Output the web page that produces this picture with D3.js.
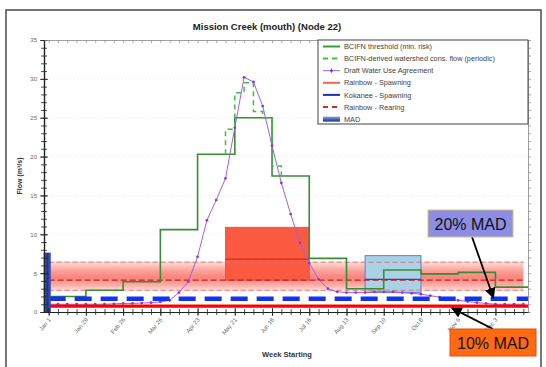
<!DOCTYPE html>
<html>
<head>
<meta charset="utf-8">
<script src="https://cdn.jsdelivr.net/npm/d3@7"></script>
<style>
  html, body { margin: 0; padding: 0; background: #ffffff; }
  svg { display: block; font-family: "Liberation Sans", Arial, Helvetica, sans-serif; }
</style>
</head>
<body>
<svg id="chart" width="546" height="367"></svg>
<script>
// ---------- DATA ----------
const weekLabels = ["Jan 1","Jan 29","Feb 26","Mar 26","Apr 23","May 21","Jun 18","Jul 16","Aug 13","Sep 10","Oct 8","Nov 5","Dec 3"];
const labelWeeks = [0,4,8,12,16,20,24,28,32,36,40,44,48];

// BCIFN threshold (min. risk) - 4-week steps
const bcifnWeeks  = [0,4,8,12,16,20,24,28,32,36,40,44,48,52];
const bcifnValues = [2.0,2.8,3.9,10.6,20.3,25.0,17.5,6.9,3.0,5.4,4.9,5.1,3.2,3.2];

// BCIFN-derived watershed cons. flow (periodic) - where it differs from threshold
const consWeeks  = [19,19,20,21,22,23,24,25];
const consValues = [20.3,23.5,28.2,29.5,25.8,25.0,18.8,17.5];

// Draft Water Use Agreement (weekly)
const wuaWeeks  = d3.range(0,52);
const wuaValues = [1.0,1.0,1.0,1.0,1.0,1.0,1.0,1.05,1.1,1.1,1.15,1.2,1.3,1.5,2.5,3.9,7.1,11.8,14.4,17.2,23.7,30.2,29.6,26.5,21.4,16.6,12.6,8.9,6.3,4.2,3.0,2.6,2.5,2.5,2.5,2.6,2.6,2.6,2.5,2.4,2.3,2.1,1.9,1.7,1.5,1.35,1.2,1.1,1.0,1.0,1.0,1.0];

// Rainbow - Spawning (week range, low / median / high)
const rainbowSpawnWeeks = [19,28];
const rainbowSpawnFlow  = [4.1,6.8,10.9];

// Kokanee - Spawning
const kokaneeSpawnWeeks = [34,40];
const kokaneeSpawnFlow  = [2.5,4.2,7.25];

// Rainbow - Rearing (low / median / high)
const rearingWeeks = [0,51];
const rearingFlow  = [2.8,4.1,6.4];

// MAD related
const madValue   = 7.6;
const mad20      = 1.7;
const mad10      = 0.75;

const yTicks = d3.range(0,36,5);

// ---------- LAYOUT ----------
const svg = d3.select("#chart");
const L = 44, R = 528, T = 40, B = 312;

const x = d3.scaleLinear().domain([-0.5, 51.5]).range([L, R]);
const y = d3.scaleLinear().domain([0, 35]).range([B, T]);

const defs = svg.append("defs");
defs.append("clipPath").attr("id","plotclip").append("rect")
  .attr("x",L).attr("y",T).attr("width",R-L).attr("height",B-T);

const bandGrad = defs.append("linearGradient").attr("id","bandGrad")
  .attr("x1",0).attr("y1",0).attr("x2",0).attr("y2",1);
bandGrad.append("stop").attr("offset","0%").attr("stop-color","#ffe2e0");
bandGrad.append("stop").attr("offset","30%").attr("stop-color","#fb9a92");
bandGrad.append("stop").attr("offset","55%").attr("stop-color","#f8766c");
bandGrad.append("stop").attr("offset","80%").attr("stop-color","#fba59e");
bandGrad.append("stop").attr("offset","100%").attr("stop-color","#ffe6e4");

const madGrad = defs.append("linearGradient").attr("id","madGrad")
  .attr("x1",0).attr("y1",0).attr("x2",1).attr("y2",0);
madGrad.append("stop").attr("offset","0%").attr("stop-color","#5a78d0");
madGrad.append("stop").attr("offset","50%").attr("stop-color","#1c2f8e");
madGrad.append("stop").attr("offset","100%").attr("stop-color","#4060c0");

const madGradL = defs.append("linearGradient").attr("id","madGradL")
  .attr("x1",0).attr("y1",0).attr("x2",0).attr("y2",1);
madGradL.append("stop").attr("offset","0%").attr("stop-color","#8aa2e0");
madGradL.append("stop").attr("offset","100%").attr("stop-color","#1c2f8e");

defs.append("marker").attr("id","arrow").attr("viewBox","0 0 10 10")
  .attr("refX",9).attr("refY",5).attr("markerWidth",6).attr("markerHeight",6)
  .attr("orient","auto-start-reverse")
  .append("path").attr("d","M0,0 L10,5 L0,10 z").attr("fill","#000");

// outer frame
svg.append("rect").attr("x",6).attr("y",10).attr("width",535).attr("height",370)
  .attr("fill","none").attr("stroke","#555").attr("stroke-width",1.6);

// title
svg.append("text").attr("x",267).attr("y",30).attr("text-anchor","middle")
  .attr("font-size",9.5).attr("font-weight","bold").attr("fill","#222")
  .text("Mission Creek (mouth) (Node 22)");

// faint grid
const grid = svg.append("g");
grid.selectAll("line.h").data(yTicks.filter(d=>d>0 && d<35)).join("line")
  .attr("x1",L).attr("x2",R).attr("y1",d=>y(d)).attr("y2",d=>y(d))
  .attr("stroke","#e4e4e4").attr("stroke-dasharray","1,2").attr("stroke-width",0.8);

const plot = svg.append("g").attr("clip-path","url(#plotclip)");

// Rainbow rearing band
plot.append("rect")
  .attr("x",x(rearingWeeks[0])).attr("width",x(rearingWeeks[1])-x(rearingWeeks[0]))
  .attr("y",y(rearingFlow[2]+0.15)).attr("height",y(rearingFlow[0]-0.15)-y(rearingFlow[2]+0.15))
  .attr("fill","url(#bandGrad)").attr("opacity",0.9);

// Rainbow spawning box
plot.append("rect")
  .attr("x",x(rainbowSpawnWeeks[0])).attr("width",x(rainbowSpawnWeeks[1])-x(rainbowSpawnWeeks[0]))
  .attr("y",y(rainbowSpawnFlow[2])).attr("height",y(rainbowSpawnFlow[0])-y(rainbowSpawnFlow[2]))
  .attr("fill","#fb5a40").attr("stroke","#e84a30").attr("stroke-width",0.8);
plot.append("line")
  .attr("x1",x(rainbowSpawnWeeks[0])).attr("x2",x(rainbowSpawnWeeks[1]))
  .attr("y1",y(rainbowSpawnFlow[1])).attr("y2",y(rainbowSpawnFlow[1]))
  .attr("stroke","#d42a1a").attr("stroke-width",1.2);

// Kokanee spawning box
plot.append("rect")
  .attr("x",x(kokaneeSpawnWeeks[0])).attr("width",x(kokaneeSpawnWeeks[1])-x(kokaneeSpawnWeeks[0]))
  .attr("y",y(kokaneeSpawnFlow[2])).attr("height",y(kokaneeSpawnFlow[0])-y(kokaneeSpawnFlow[2]))
  .attr("fill","#a9d2e4").attr("stroke","#5a78e0").attr("stroke-width",1);

// rearing dashed lines
plot.selectAll("line.rear").data([rearingFlow[0], rearingFlow[2]]).join("line")
  .attr("x1",x(rearingWeeks[0])).attr("x2",x(rearingWeeks[1]))
  .attr("y1",d=>y(d)).attr("y2",d=>y(d))
  .attr("stroke","#e66a6a").attr("stroke-width",0.9).attr("stroke-dasharray","5,3");
plot.append("line")
  .attr("x1",x(rearingWeeks[0])).attr("x2",x(rearingWeeks[1]))
  .attr("y1",y(rearingFlow[1])).attr("y2",y(rearingFlow[1]))
  .attr("stroke","#c81e1e").attr("stroke-width",1.4).attr("stroke-dasharray","6,3");

// kokanee median line
plot.append("line")
  .attr("x1",x(kokaneeSpawnWeeks[0])).attr("x2",x(kokaneeSpawnWeeks[1]))
  .attr("y1",y(kokaneeSpawnFlow[1])).attr("y2",y(kokaneeSpawnFlow[1]))
  .attr("stroke","#3340c8").attr("stroke-width",1.3);

// BCIFN threshold
const stepLine = d3.line().x(d=>x(d[0])).y(d=>y(d[1])).curve(d3.curveStepAfter);
plot.append("path").datum(bcifnWeeks.map((w,i)=>[w,bcifnValues[i]]))
  .attr("d",stepLine).attr("fill","none").attr("stroke","#3a8c34").attr("stroke-width",1.6);

// BCIFN-derived cons. flow (dashed)
plot.append("path").datum(consWeeks.map((w,i)=>[w,consValues[i]]))
  .attr("d",stepLine).attr("fill","none").attr("stroke","#3cbf3c").attr("stroke-width",1.5)
  .attr("stroke-dasharray","5,4");

// Draft WUA
const wuaLine = d3.line().x(d=>x(d[0])).y(d=>y(d[1]));
const wuaData = wuaWeeks.map((w,i)=>[w,wuaValues[i]]);
plot.append("path").datum(wuaData).attr("d",wuaLine)
  .attr("fill","none").attr("stroke","#a55ee0").attr("stroke-width",1);
plot.selectAll("circle.wua").data(wuaData).join("circle")
  .attr("cx",d=>x(d[0])).attr("cy",d=>y(d[1])).attr("r",1.4).attr("fill","#8a3ccc");

// 20% MAD line
plot.append("line").attr("x1",x(0)).attr("x2",R)
  .attr("y1",y(mad20)).attr("y2",y(mad20))
  .attr("stroke","#1432f0").attr("stroke-width",4.6).attr("stroke-dasharray","17,9");

// 10% MAD line
plot.append("line").attr("x1",x(0)).attr("x2",R)
  .attr("y1",y(mad10)).attr("y2",y(mad10))
  .attr("stroke","#ff0000").attr("stroke-width",3.4);

// MAD bar
svg.append("rect").attr("x",x(-0.5)).attr("width",x(0.2)-x(-0.5))
  .attr("y",y(madValue)).attr("height",y(0)-y(madValue))
  .attr("fill","url(#madGrad)").attr("stroke","#2a3ea0").attr("stroke-width",0.5);

// ---------- AXES ----------
const axisColor = "#222";
function styleAxis(g){
  g.select(".domain").attr("stroke",axisColor).attr("stroke-width",1);
  g.selectAll(".tick line").attr("stroke",axisColor).attr("stroke-width",0.8);
  g.selectAll(".tick text").attr("fill","#666").attr("font-size",6);
}
// left axis
const gLeftMinor = svg.append("g").attr("transform",`translate(${L},0)`)
  .call(d3.axisLeft(y).tickValues(d3.range(0,36,1)).tickSize(3).tickFormat(""));
gLeftMinor.select(".domain").remove();
gLeftMinor.selectAll(".tick line").attr("x2",-3).attr("x1",3).attr("stroke",axisColor).attr("stroke-width",0.8);
const gLeft = svg.append("g").attr("transform",`translate(${L},0)`)
  .call(d3.axisLeft(y).tickValues(yTicks).tickSize(4).tickPadding(3).tickSizeOuter(0));
styleAxis(gLeft);
gLeft.selectAll(".tick line").attr("x1",4).attr("x2",-4);
gLeft.select(".domain").attr("stroke-width",1.4);

// right axis
const gRight = svg.append("g").attr("transform",`translate(${R},0)`)
  .call(d3.axisLeft(y).tickValues(d3.range(0,36,1)).tickSize(3).tickFormat("").tickSizeOuter(0));
gRight.select(".domain").attr("stroke","#888").attr("stroke-width",0.8);
gRight.selectAll(".tick line").attr("stroke","#888").attr("stroke-width",0.7).attr("x2",3).attr("x1",0);

// top axis
const gTop = svg.append("g").attr("transform",`translate(0,${T})`)
  .call(d3.axisBottom(x).tickValues(d3.range(0,52,1)).tickSize(3).tickFormat("").tickSizeOuter(0));
gTop.select(".domain").attr("stroke","#888").attr("stroke-width",0.8);
gTop.selectAll(".tick line").attr("stroke","#888").attr("stroke-width",0.7);

// bottom axis minor
const gBotMinor = svg.append("g").attr("transform",`translate(0,${B})`)
  .call(d3.axisBottom(x).tickValues(d3.range(0,52,1)).tickSize(3).tickFormat("").tickSizeOuter(0));
gBotMinor.select(".domain").attr("stroke",axisColor).attr("stroke-width",1.2);
gBotMinor.selectAll(".tick line").attr("y1",-3).attr("y2",3).attr("stroke",axisColor).attr("stroke-width",0.8);

// bottom axis major with rotated labels
const gBot = svg.append("g").attr("transform",`translate(0,${B})`)
  .call(d3.axisBottom(x).tickValues(labelWeeks).tickSize(4).tickSizeOuter(0)
    .tickFormat((d,i)=>weekLabels[i]));
styleAxis(gBot);
gBot.select(".domain").remove();
gBot.selectAll(".tick line").attr("y1",-4).attr("y2",4);
gBot.selectAll(".tick text")
  .attr("text-anchor","end").attr("dx",0).attr("dy",0)
  .attr("transform","translate(2,8) rotate(-50)")
  .attr("y",0).attr("x",0);

// axis titles
svg.append("text").attr("x",287).attr("y",357).attr("text-anchor","middle")
  .attr("font-size",7.5).attr("font-weight","bold").attr("fill","#333").text("Week Starting");
svg.append("text").attr("transform","translate(22,176) rotate(-90)").attr("text-anchor","middle")
  .attr("font-size",7).attr("font-weight","bold").attr("fill","#333").text("Flow (m³/s)");

// ---------- LEGEND ----------
const legendItems = [
  {label:"BCIFN threshold (min. risk)", type:"line", color:"#3a9e34", dash:null},
  {label:"BCIFN-derived watershed cons. flow (periodic)", type:"line", color:"#3cbf3c", dash:"5,4"},
  {label:"Draft Water Use Agreement", type:"marker", color:"#a55ee0"},
  {label:"Rainbow - Spawning", type:"line", color:"#f0645a", dash:null},
  {label:"Kokanee - Spawning", type:"line", color:"#2230b8", dash:null},
  {label:"Rainbow - Rearing", type:"line", color:"#d42a2a", dash:"5,4"},
  {label:"MAD", type:"rect", color:"url(#madGradL)"}
];
const lg = svg.append("g");
lg.append("rect").attr("x",318).attr("y",T).attr("width",R-318).attr("height",84)
  .attr("fill","#fff").attr("stroke","#444").attr("stroke-width",1);
const li = lg.selectAll("g.li").data(legendItems).join("g")
  .attr("transform",(d,i)=>`translate(323,${46.5+i*12.1})`);
li.each(function(d){
  const g = d3.select(this);
  if(d.type==="line"){
    g.append("line").attr("x1",0).attr("x2",17).attr("y1",0).attr("y2",0)
      .attr("stroke",d.color).attr("stroke-width",2).attr("stroke-dasharray",d.dash);
  } else if(d.type==="marker"){
    g.append("line").attr("x1",0).attr("x2",17).attr("y1",0).attr("y2",0)
      .attr("stroke",d.color).attr("stroke-width",1);
    g.append("line").attr("x1",8.5).attr("x2",8.5).attr("y1",-2).attr("y2",2)
      .attr("stroke","#7a30c0").attr("stroke-width",1);
    g.append("circle").attr("cx",8.5).attr("cy",0).attr("r",1.3).attr("fill","#7a30c0");
  } else {
    g.append("rect").attr("x",0).attr("y",-2.5).attr("width",17).attr("height",5).attr("fill",d.color);
  }
  g.append("text").attr("x",21).attr("y",2.6).attr("font-size",7.3).attr("fill","#444").text(d.label);
});

// ---------- ANNOTATIONS ----------
const ann = svg.append("g");
// 20% MAD
ann.append("line").attr("x1",472).attr("y1",237).attr("x2",x(48)-2).attr("y2",y(mad20)-1)
  .attr("stroke","#000").attr("stroke-width",1.8).attr("marker-end","url(#arrow)");
ann.append("rect").attr("x",428).attr("y",210).attr("width",85).attr("height",27)
  .attr("fill","#8d8de6").attr("stroke","#cfc27a").attr("stroke-width",1);
ann.append("text").attr("x",470.5).attr("y",229.5).attr("text-anchor","middle")
  .attr("font-size",16).attr("fill","#111").text("20% MAD");
// 10% MAD
ann.append("line").attr("x1",493).attr("y1",329).attr("x2",x(43)+3).attr("y2",y(mad10)+2)
  .attr("stroke","#000").attr("stroke-width",1.8).attr("marker-end","url(#arrow)");
ann.append("rect").attr("x",450).attr("y",329).attr("width",86).attr("height",27)
  .attr("fill","#ff6a12").attr("stroke","#e24e0c").attr("stroke-width",1);
ann.append("text").attr("x",493).attr("y",348.5).attr("text-anchor","middle")
  .attr("font-size",16).attr("fill","#111").text("10% MAD");
</script>
</body>
</html>
